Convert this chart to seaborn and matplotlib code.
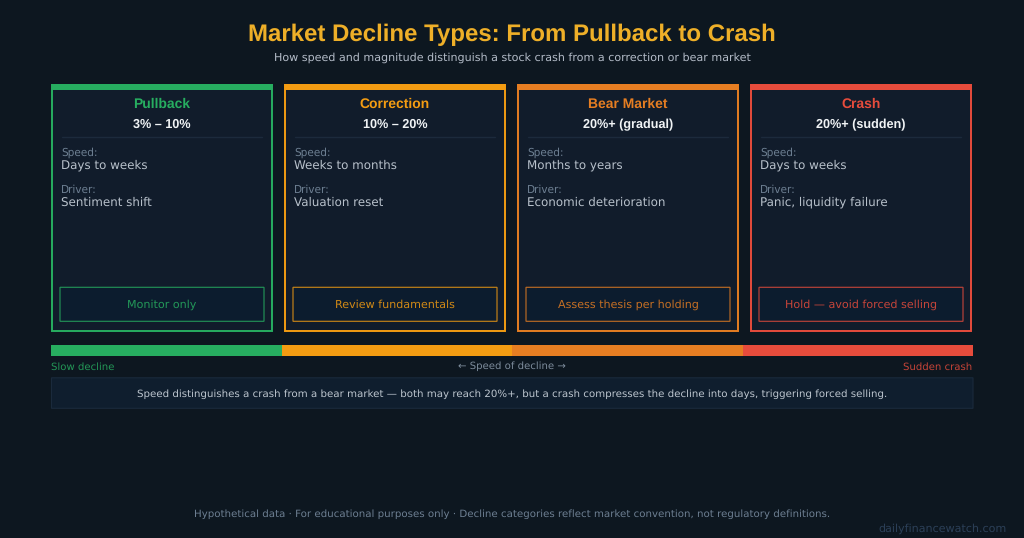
import matplotlib
matplotlib.use("Agg")
import matplotlib.pyplot as plt
from matplotlib.patches import Rectangle
import pandas as pd
import seaborn as sns

names = ["Pullback", "Correction", "Bear Market", "Crash"]
ranges = ["3% – 10%", "10% – 20%", "20%+ (gradual)", "20%+ (sudden)"]
speeds = ["Days to weeks", "Weeks to months", "Months to years", "Days to weeks"]
drivers = ["Sentiment shift", "Valuation reset", "Economic deterioration", "Panic, liquidity failure"]
actions = ["Monitor only", "Review fundamentals", "Assess thesis per holding", "Hold — avoid forced selling"]
colors = ["#27ae60", "#f39c12", "#e67e22", "#e74c3c"]
segment = [1, 1, 1, 1]

BG = "#0d1720"
CARD = "#111c2b"
INNER = "#0b1c30"
BOLD = "Liberation Sans"
W, H = 1024, 538

sns.set_theme(style="dark", rc={"axes.facecolor": BG, "figure.facecolor": BG})
plt.rcParams["font.family"] = ["DejaVu Sans"]
plt.rcParams["text.hinting"] = "no_hinting"

fig = plt.figure(figsize=(10.24, 5.38), dpi=100)
# main axes in pixel coords, easier for the card layout
ax = fig.add_axes([0, 0, 1, 1])
ax.set_xlim(0, W)
ax.set_ylim(H, 0)
ax.axis("off")

ax.text(512, 41.3, "Market Decline Types: From Pullback to Crash", color="#eeaf28",
        fontsize=17.25, fontweight="bold", family=BOLD, ha="center", va="baseline")
ax.text(512, 61, "How speed and magnitude distinguish a stock crash from a correction or bear market",
        color="#b4bcc8", fontsize=8, ha="center", va="baseline")

card_w = 220
for i, name in enumerate(names):
    x = 52 + i * 233
    c = colors[i]
    ax.add_patch(Rectangle((x, 85), card_w, 246, fc=CARD, ec=c, lw=1.4, snap=False))
    ax.add_patch(Rectangle((x - 0.7, 84), card_w + 1.4, 6, fc=c, ec="none", snap=False))
    mid = x + card_w / 2
    ax.text(mid, 108.3, name, color=c, fontsize=10, fontweight="bold", family=BOLD, ha="center", va="baseline")
    ax.text(mid, 128.3, ranges[i], color="#f0f3f5", fontsize=9.1, fontweight="bold", family=BOLD,
            ha="center", va="baseline")
    ax.plot([x + 10, x + 210], [136.5, 136.5], color="#1c2a3c", lw=1)
    ax.text(x + 9.3, 155.6, "Speed:", color="#6d7f92", fontsize=7.6, ha="left", va="baseline")
    ax.text(x + 9.3, 168.6, speeds[i], color="#b8c1cb", fontsize=8.6, ha="left", va="baseline")
    ax.text(x + 9.3, 193, "Driver:", color="#6d7f92", fontsize=7.6, ha="left", va="baseline")
    ax.text(x + 9.3, 206, drivers[i], color="#b8c1cb", fontsize=8.6, ha="left", va="baseline")
    ax.add_patch(Rectangle((x + 8, 287.3), 204, 34, fc=INNER, ec=c, lw=0.85, alpha=0.8, snap=False))
    ax.text(mid, 307.8, actions[i], color=c, alpha=0.85, fontsize=8, ha="center", va="baseline")

# speed strip drawn as a gapless bar plot
bar_ax = fig.add_axes([51 / W, 1 - 356 / H, 922 / W, 11 / H])
strip = pd.DataFrame({"name": names, "segment": segment})
sns.barplot(data=strip, x="name", y="segment", hue="name", palette=colors, width=1,
            legend=False, saturation=1, linewidth=0, edgecolor="none", ax=bar_ax)
bar_ax.set_xlim(-0.5, 3.5)
bar_ax.set_ylim(0, 1)
bar_ax.axis("off")

ax.text(51, 369.4, "Slow decline", color=colors[0], alpha=0.85, fontsize=7.3, ha="left", va="baseline")
ax.text(512, 369.4, "← Speed of decline →", color="#7d8c9c", fontsize=7.3, ha="center", va="baseline")
ax.text(972, 369.4, "Sudden crash", color=colors[3], alpha=0.85, fontsize=7.3, ha="right", va="baseline")

ax.add_patch(Rectangle((51.5, 377.8), 921.5, 30.5, fc="#0f1e2e", ec="#1a2a3c", lw=0.8, snap=False))
ax.text(512, 397.3, "Speed distinguishes a crash from a bear market — both may reach 20%+, but a crash "
        "compresses the decline into days, triggering forced selling.",
        color="#bdc6cf", fontsize=7.35, ha="center", va="baseline")

ax.text(512, 516.6, "Hypothetical data · For educational purposes only · Decline categories reflect "
        "market convention, not regulatory definitions.",
        color="#6d7f92", fontsize=7.35, ha="center", va="baseline")
ax.text(1007, 531.6, "dailyfinancewatch.com", color="#2c4058", fontsize=8, ha="right", va="baseline")

fig.savefig("out.png", dpi=100, facecolor=BG)
